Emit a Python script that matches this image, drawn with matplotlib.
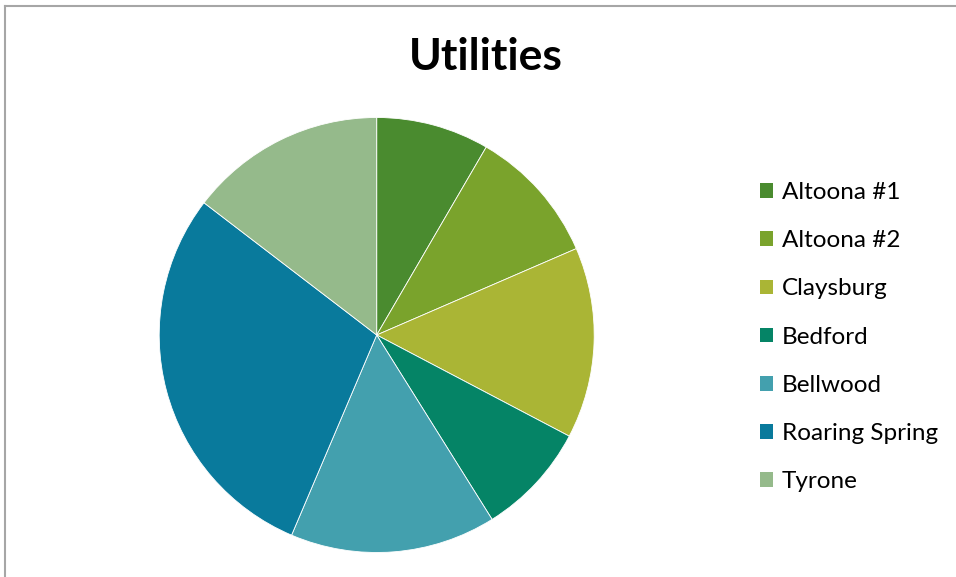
import matplotlib
matplotlib.use("Agg")
import matplotlib.pyplot as plt
from matplotlib.lines import Line2D
from matplotlib.patches import Patch

plt.rcParams['font.family'] = ['Lato', 'DejaVu Sans']

# Share of utilities by site (percent)
sites = ['Altoona #1', 'Altoona #2', 'Claysburg', 'Bedford', 'Bellwood',
         'Roaring Spring', 'Tyrone']
shares = [8.4, 10.1, 14.2, 8.4, 15.3, 29.0, 14.6]
colors = ['#4a8b2f', '#7aa32c', '#aab535', '#058466', '#43a0ae',
          '#097a9c', '#95ba8b']

W, H = 956, 577
fig = plt.figure(figsize=(W / 100, H / 100), dpi=100)
fig.patch.set_facecolor('white')

# chart frame (only top and left edges show)
fig.add_artist(Line2D([5 / W, 5 / W], [0, 1 - 6 / H], transform=fig.transFigure,
                      color='#a6a6a6', lw=1.5))
fig.add_artist(Line2D([5 / W, 1], [1 - 6 / H, 1 - 6 / H], transform=fig.transFigure,
                      color='#a6a6a6', lw=1.5))

cx, cy, r = 376.7, 335, 217.5
ax = fig.add_axes([(cx - r) / W, (H - cy - r) / H, 2 * r / W, 2 * r / H])
ax.pie(shares, colors=colors, startangle=90, counterclock=False, radius=1,
       wedgeprops=dict(edgecolor='white', linewidth=0.6))
ax.set_xlim(-1, 1)
ax.set_ylim(-1, 1)
ax.set_aspect('equal')
ax.axis('off')

fig.text(486 / W, 1 - 57 / H, 'Utilities', ha='center', va='center',
         fontsize=32, fontweight='bold', color='black')

handles = [Patch(facecolor=c, edgecolor='none') for c in colors]
fig.legend(handles, sites, loc='upper left', bbox_to_anchor=(760 / W, 1 - 182 / H),
           frameon=False, fontsize=17.5, labelspacing=1.12, handlelength=0.54,
           handleheight=0.54, handletextpad=0.37, borderpad=0, borderaxespad=0)

fig.savefig('out.png', dpi=100, facecolor='white')
